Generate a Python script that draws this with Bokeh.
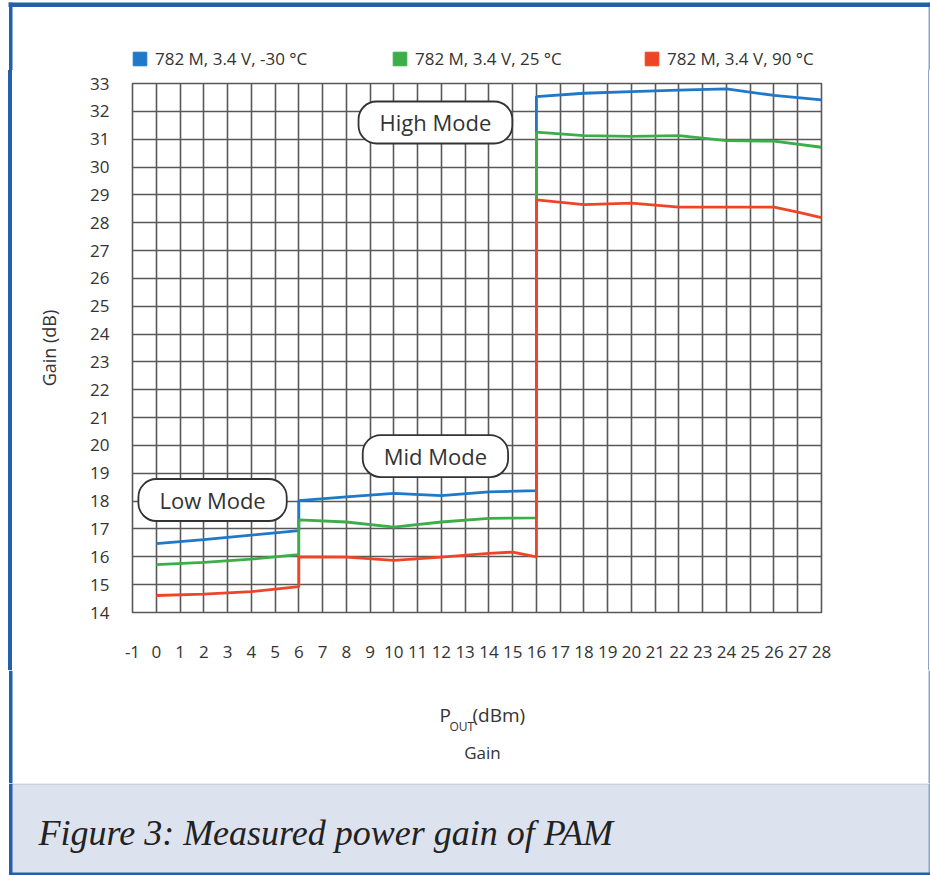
from bokeh.plotting import figure
from bokeh.layouts import column, row
from bokeh.models import Label, Legend, LegendItem, FixedTicker, Range1d, Spacer
from bokeh.embed import file_html
from bokeh.resources import INLINE

# ---------------- data ----------------
series_labels = ["782 M, 3.4 V, -30 °C", "782 M, 3.4 V, 25 °C", "782 M, 3.4 V, 90 °C"]
series_colors = ["#1f78c8", "#3cae49", "#ef4527"]

pout_blue = [0, 2, 4, 6, 6, 8, 10, 12, 14, 16, 16, 18, 20, 22, 24, 26, 28]
gain_blue = [16.47, 16.62, 16.78, 16.94, 18.02, 18.15, 18.28, 18.20, 18.33, 18.38,
             32.53, 32.65, 32.71, 32.76, 32.81, 32.57, 32.41]

pout_green = [0, 2, 4, 6, 6, 8, 10, 12, 14, 16, 16, 18, 20, 22, 24, 26, 28]
gain_green = [15.72, 15.80, 15.92, 16.08, 17.33, 17.25, 17.07, 17.25, 17.38, 17.40,
              31.25, 31.13, 31.10, 31.13, 30.95, 30.93, 30.71]

pout_red = [0, 2, 4, 6, 6, 8, 10, 12, 14, 15, 16, 16, 18, 20, 22, 24, 26, 27, 28]
gain_red = [14.61, 14.66, 14.75, 14.93, 16.00, 15.99, 15.87, 15.99, 16.12, 16.17, 16.00,
            28.82, 28.65, 28.70, 28.56, 28.56, 28.56, 28.38, 28.18]

x_ticks = list(range(-1, 29))
x_tick_labels = [str(t) for t in x_ticks]
y_ticks = list(range(14, 34))
y_tick_labels = [str(t) for t in y_ticks]

mode_labels = ["Low Mode", "Mid Mode", "High Mode"]
mode_x = [2.37, 11.75, 11.75]
mode_y = [18.04, 19.62, 31.60]

y_title = "Gain (dB)"
x_title_main, x_title_sub, x_title_unit = "P", "OUT", "(dBm)"
x_title_2 = "Gain"
caption = "Figure 3: Measured power gain of PAM"

# ---------------- styling / layout constants ----------------
W, H = 930, 875
FONT = "Open Sans"
TXT = "#333333"
GRID = "#585858"
BLUE_BORDER = "#2360aa"
RIGHT_LINE = "#8aa5cc"
BAND = "#dde2ef"

TOP_H = 70          # strip holding the legend
MAIN_H = 600        # chart row (frame 83..612 on the page)
BELOW_H = 113       # x-axis titles
CAP_H = H - TOP_H - MAIN_H - BELOW_H   # caption band
LEFT_W = 13         # left blue border strip
RIGHT_W = 3         # right thin border strip
FL, FR, FT, FB = 132, 821, 83, 612


def strip(w, h, y0):
    """A figure whose frame is the whole canvas, in page-pixel coordinates."""
    f = figure(width=w, height=h, x_range=Range1d(0, w), y_range=Range1d(y0 + h, y0),
               output_backend="svg", toolbar_location=None, min_border=0,
               x_axis_type=None, y_axis_type=None)
    f.outline_line_color = None
    f.background_fill_color = "white"
    f.border_fill_color = "white"
    return f


def side_lines(f, y0, y1):
    f.quad(left=[8.5], right=[12], top=[y0], bottom=[y1], fill_color=BLUE_BORDER, line_color=None)
    f.quad(left=[928], right=[929.5], top=[y0], bottom=[y1], fill_color=RIGHT_LINE, line_color=None)


# ---- top strip: border + legend ----
top = strip(W, TOP_H, 0)
side_lines(top, 2, TOP_H)
top.quad(left=[8], right=[W], top=[2], bottom=[6.5], fill_color=BLUE_BORDER, line_color=None)
legend_x = [131, 391, 643]
nan = float("nan")
for lab, c, lx in zip(series_labels, series_colors, legend_x):
    r = top.quad(left=[nan], right=[nan], top=[nan], bottom=[nan], fill_color=c, line_color=c)
    lg = Legend(items=[LegendItem(label=lab, renderers=[r])], location=(lx, 0),
                glyph_width=17, glyph_height=17, label_standoff=7,
                padding=0, margin=0, border_line_color=None, background_fill_alpha=0,
                label_text_font=FONT, label_text_font_size="17px", label_text_color=TXT,
                label_height=17)
    top.add_layout(lg)

# ---- left / right border strips (plain layout spacers) ----
left = Spacer(width=LEFT_W, height=MAIN_H, margin=(0, 0, 0, 0),
              styles={"background": f"linear-gradient(to right, #ffffff 8.5px, {BLUE_BORDER} 8.5px, "
                                    f"{BLUE_BORDER} 12px, #ffffff 12px)"})
right = Spacer(width=RIGHT_W, height=MAIN_H, margin=(0, 0, 0, 0),
               styles={"background": f"linear-gradient(to right, #ffffff 1px, {RIGHT_LINE} 1px, "
                                     f"{RIGHT_LINE} 2.5px, #ffffff 2.5px)"})

# ---- main chart ----
MW = W - LEFT_W - RIGHT_W
p = figure(width=MW, height=MAIN_H, x_range=Range1d(-1, 28), y_range=Range1d(14, 33),
           output_backend="svg", toolbar_location=None,
           min_border_left=FL - LEFT_W, min_border_right=MW - (FR - LEFT_W),
           min_border_top=FT - TOP_H, min_border_bottom=TOP_H + MAIN_H - FB)
p.background_fill_color = "white"
p.border_fill_color = "white"
p.outline_line_color = GRID
p.outline_line_width = 1.6

for g, t in ((p.xgrid, x_ticks), (p.ygrid, y_ticks)):
    g.ticker = FixedTicker(ticks=t)
    g.grid_line_color = GRID
    g.grid_line_width = 1.6
    g.grid_line_alpha = 1.0

p.xaxis.ticker = FixedTicker(ticks=x_ticks)
p.xaxis.major_label_overrides = {t: l for t, l in zip(x_ticks, x_tick_labels)}
p.yaxis.ticker = FixedTicker(ticks=y_ticks)
p.yaxis.major_label_overrides = {t: l for t, l in zip(y_ticks, y_tick_labels)}
for ax in (p.xaxis[0], p.yaxis[0]):
    ax.axis_line_color = None
    ax.major_tick_line_color = None
    ax.minor_tick_line_color = None
    ax.major_tick_out = 0
    ax.major_tick_in = 0
    ax.minor_tick_out = 0
    ax.major_label_text_font = FONT
    ax.major_label_text_font_size = "17px"
    ax.major_label_text_color = TXT
p.xaxis.major_label_standoff = 33
p.yaxis.major_label_standoff = 23
p.yaxis.axis_label = y_title
p.yaxis.axis_label_text_font = FONT
p.yaxis.axis_label_text_font_style = "normal"
p.yaxis.axis_label_text_font_size = "18px"
p.yaxis.axis_label_text_color = TXT
p.yaxis.axis_label_standoff = 26

xs = [pout_blue, pout_green, pout_red]
ys = [gain_blue, gain_green, gain_red]
for x, y, c in zip(xs, ys, series_colors):
    p.line(x, y, line_color=c, line_width=2.8)

for t, mx, my in zip(mode_labels, mode_x, mode_y):
    p.add_layout(Label(x=mx, y=my, text=t, text_align="center", text_baseline="middle",
                       text_font=FONT, text_font_size="22px", text_color=TXT,
                       background_fill_color="white", border_line_color="#333333",
                       border_line_width=1.8, border_radius=18, padding=(21, 6)))

# ---- x-axis titles strip ----
y0 = TOP_H + MAIN_H
below = strip(W, BELOW_H, y0)
side_lines(below, y0, y0 + BELOW_H)
below.add_layout(Label(x=439, y=714.5, text=x_title_main, text_baseline="middle",
                       text_font=FONT, text_font_size="19px", text_color=TXT))
below.add_layout(Label(x=449, y=726, text=x_title_sub, text_baseline="middle",
                       text_font=FONT, text_font_size="12px", text_color=TXT))
below.add_layout(Label(x=472, y=714.5, text=x_title_unit, text_baseline="middle",
                       text_font=FONT, text_font_size="19px", text_color=TXT))
below.add_layout(Label(x=482, y=752, text=x_title_2, text_align="center", text_baseline="middle",
                       text_font=FONT, text_font_size="17px", text_color=TXT))

# ---- caption band ----
y1 = y0 + BELOW_H
cap = strip(W, CAP_H, y1)
cap.quad(left=[10], right=[W], top=[y1], bottom=[H], fill_color=BAND, line_color=None)
cap.quad(left=[10], right=[W], top=[y1], bottom=[y1 + 1.2], fill_color="#c4cad6", line_color=None)
side_lines(cap, y1, H)
cap.quad(left=[8.5], right=[W], top=[H - 3], bottom=[H], fill_color=BLUE_BORDER, line_color=None)
cap.add_layout(Label(x=38, y=832, text=caption, text_baseline="middle",
                     text_font="Liberation Serif", text_font_style="italic",
                     text_font_size="36px", text_color="#222222"))

layout = column(top, row(left, p, right), below, cap)
open("out.html", "w").write(file_html(layout, INLINE))
